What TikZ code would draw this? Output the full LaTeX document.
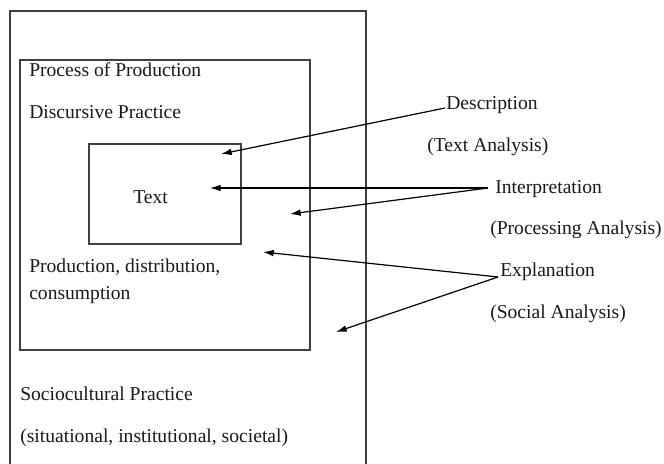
\documentclass[tikz,border=0pt]{standalone}
\usepackage{fontspec}
\setmainfont{Liberation Serif}
\usetikzlibrary{arrows.meta}
\begin{document}
\begin{tikzpicture}[x=0.75pt,y=-0.75pt,
  boxline/.style={draw=black!75,line width=0.9pt},
  lbl/.style={anchor=base west,inner sep=0pt,font=\fontsize{14.7}{17}\selectfont,text=black!90},
  arr/.style={draw=black,line width=0.9pt,-{Latex[length=8pt,width=5pt]}}]
\useasboundingbox (0,0) rectangle (664,464);
% outer box (open at bottom)
\draw[boxline] (10,466) -- (10,11) -- (366,11) -- (366,466);
% middle and inner boxes
\draw[boxline] (20,60) rectangle (310,350);
\draw[boxline] (89,144) rectangle (241,244);
% texts
\node[lbl] (pp) at (29,76) {Process of Production};
\node[lbl] (dp) at (29,118) {Discursive Practice};
\node[lbl] (tx) at (133,203) {Text};
\node[lbl] (pdc1) at (29,272) {Production, distribution,};
\node[lbl] (pdc2) at (29,299) {consumption};
\node[lbl] (sp) at (20,400) {Sociocultural Practice};
\node[lbl] (sis) at (20,442) {(situational, institutional, societal)};
\node[lbl] (desc) at (446,109) {Description};
\node[lbl] (ta) at (427,151) {(Text Analysis)};
\node[lbl] (interp) at (495,193) {Interpretation};
\node[lbl] (pa) at (490,234) {(Processing Analysis)};
\node[lbl] (expl) at (500,276) {Explanation};
\node[lbl] (sa) at (490,318) {(Social Analysis)};
% arrow anchors
\coordinate (dS) at (445,108);
\coordinate (iS) at (488,188);
\coordinate (eS) at (498,277);
\coordinate (d1) at (221,154);
\coordinate (i1) at (210,188);
\coordinate (i2) at (290,214);
\coordinate (e1) at (263,252);
\coordinate (e2) at (336,332);
% arrows
\draw[arr] (dS) -- (d1);
\draw[arr] (iS) -- (i1);
\draw[arr] (iS) -- (i2);
\draw[arr] (eS) -- (e1);
\draw[arr] (eS) -- (e2);
\end{tikzpicture}
\end{document}
